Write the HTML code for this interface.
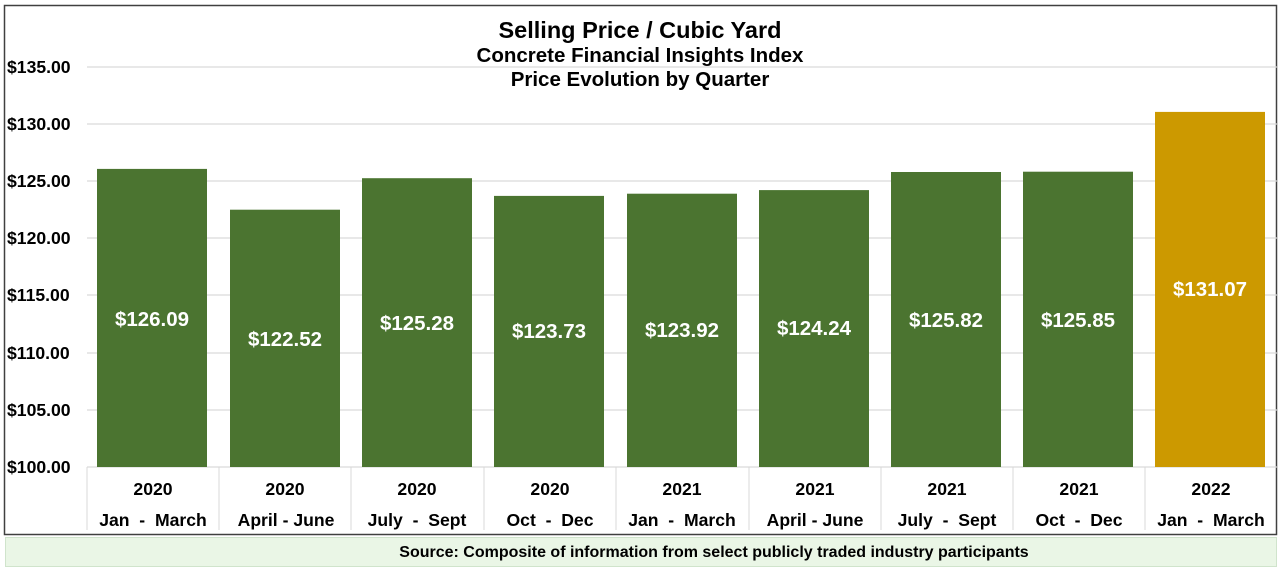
<!DOCTYPE html>
<html><head><meta charset="utf-8"><style>
body{margin:0;background:#fff;}
svg{display:block;font-family:"Liberation Sans",Arial,sans-serif;font-weight:bold;}
</style></head><body>
<svg width="1280" height="568" viewBox="0 0 1280 568">
<rect x="4.5" y="5.5" width="1272" height="529" fill="#fff" stroke="#404040" stroke-width="1.5"/>
<rect x="5.5" y="537.5" width="1271" height="29" fill="#eaf6e6" stroke="#d0e4cc" stroke-width="1"/>
<text x="714" y="557" font-size="16" text-anchor="middle" fill="#000">Source: Composite of information from select publicly traded industry participants</text>
<g stroke="#d9d9d9" stroke-width="1.2">
<line x1="87" x2="1277" y1="67" y2="67"/><line x1="87" x2="1277" y1="124" y2="124"/>
<line x1="87" x2="1277" y1="181" y2="181"/><line x1="87" x2="1277" y1="238" y2="238"/>
<line x1="87" x2="1277" y1="295" y2="295"/><line x1="87" x2="1277" y1="353" y2="353"/>
<line x1="87" x2="1277" y1="410" y2="410"/><line x1="87" x2="1277" y1="467" y2="467"/>
</g>
<g font-size="17.6" fill="#000">
<text x="7" y="73">$135.00</text><text x="7" y="130">$130.00</text><text x="7" y="187">$125.00</text>
<text x="7" y="244">$120.00</text><text x="7" y="301">$115.00</text><text x="7" y="359">$110.00</text>
<text x="7" y="416">$105.00</text><text x="7" y="473">$100.00</text>
</g>
<g text-anchor="middle" fill="#000">
<text x="640" y="38" font-size="23.5">Selling Price / Cubic Yard</text>
<text x="640" y="62" font-size="20.5">Concrete Financial Insights Index</text>
<text x="640" y="86" font-size="20.5">Price Evolution by Quarter</text>
</g>
<g fill="#4b7430">
<rect x="97" y="168.9" width="110" height="298.1"/>
<rect x="230" y="209.7" width="110" height="257.3"/>
<rect x="362" y="178.2" width="110" height="288.8"/>
<rect x="494" y="195.9" width="110" height="271.1"/>
<rect x="627" y="193.7" width="110" height="273.3"/>
<rect x="759" y="190.1" width="110" height="276.9"/>
<rect x="891" y="172.0" width="110" height="295"/>
<rect x="1023" y="171.7" width="110" height="295.3"/>
</g>
<rect x="1155" y="111.9" width="110" height="355.1" fill="#cc9900"/>
<g font-size="20.5" fill="#fff" text-anchor="middle">
<text x="152" y="326">$126.09</text><text x="285" y="346">$122.52</text><text x="417" y="330">$125.28</text>
<text x="549" y="338">$123.73</text><text x="682" y="337">$123.92</text><text x="814" y="335">$124.24</text>
<text x="946" y="327">$125.82</text><text x="1078" y="327">$125.85</text><text x="1210" y="296">$131.07</text>
</g>
<g stroke="#d9d9d9" stroke-width="1">
<line x1="87" x2="87" y1="467" y2="530"/><line x1="219" x2="219" y1="467" y2="530"/>
<line x1="351" x2="351" y1="467" y2="530"/><line x1="484" x2="484" y1="467" y2="530"/>
<line x1="616" x2="616" y1="467" y2="530"/><line x1="749" x2="749" y1="467" y2="530"/>
<line x1="881" x2="881" y1="467" y2="530"/><line x1="1013" x2="1013" y1="467" y2="530"/>
<line x1="1145" x2="1145" y1="467" y2="530"/>
</g>
<g font-size="17.6" fill="#000" text-anchor="middle">
<text x="153" y="495">2020</text><text x="285" y="495">2020</text><text x="417" y="495">2020</text>
<text x="550" y="495">2020</text><text x="682" y="495">2021</text><text x="815" y="495">2021</text>
<text x="947" y="495">2021</text><text x="1079" y="495">2021</text><text x="1211" y="495">2022</text>
<text x="153" y="526">Jan &#160;- &#160;March</text><text x="286" y="526">April - June</text><text x="417" y="526">July &#160;- &#160;Sept</text>
<text x="550" y="526">Oct &#160;- &#160;Dec</text><text x="682" y="526">Jan &#160;- &#160;March</text><text x="815" y="526">April - June</text>
<text x="947" y="526">July &#160;- &#160;Sept</text><text x="1079" y="526">Oct &#160;- &#160;Dec</text><text x="1211" y="526">Jan &#160;- &#160;March</text>
</g>
</svg>
</body></html>
